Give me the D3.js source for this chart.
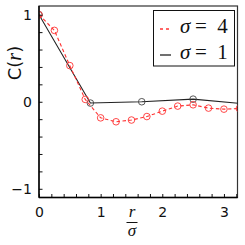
<!DOCTYPE html>
<html><head><meta charset="utf-8">
<script src="https://cdn.jsdelivr.net/npm/d3@7"></script>
<style>body{margin:0;background:#fff}svg{display:block}</style>
</head><body><svg id="c" width="245" height="245"></svg>
<script>
const redR = [0, 0.25, 0.5, 0.75, 1.0, 1.25, 1.5, 1.75, 2.0, 2.25, 2.5, 2.75, 3.0, 3.25];
const redC = [1.0, 0.82, 0.415, 0.027, -0.185, -0.23, -0.21, -0.17, -0.108, -0.05, -0.035, -0.073, -0.085, -0.078];
const blackR = [0, 0.8333, 1.6667, 2.5, 3.3333];
const blackC = [1.0, -0.015, 0.0, 0.03, -0.025];
const xMajor = [0, 1, 2, 3];
const yMajor = [-1, 0, 1];
const legendLabels = ["4", "1"];

const svg = d3.select("#c");
const L = 39, R = 237.5, T = 6, B = 197.5;
const x = d3.scaleLinear().domain([0, 3.22]).range([L, R]);
const y = d3.scaleLinear().domain([-1.1, 1.1]).range([B, T]);

svg.append("clipPath").attr("id","clip").append("rect")
  .attr("x", L).attr("y", T).attr("width", R - L).attr("height", B - T);

// frame
svg.append("rect").attr("x", L).attr("y", T).attr("width", R - L).attr("height", B - T)
  .attr("fill", "none").attr("stroke", "#333").attr("stroke-width", 1.2);

const g = svg.append("g").attr("clip-path", "url(#clip)");
const redData = redR.map((r, i) => [r, redC[i]]);
const blackData = blackR.map((r, i) => [r, blackC[i]]);
const line = d3.line().x(d => x(d[0])).y(d => y(d[1]));

g.append("path").datum(blackData).attr("d", line).attr("fill", "none")
  .attr("stroke", "#222").attr("stroke-width", 1.1);
g.selectAll(".bc").data(blackData).enter().append("circle")
  .attr("cx", d => x(d[0])).attr("cy", d => y(d[1])).attr("r", 3.3)
  .attr("fill", "none").attr("stroke", "#444").attr("stroke-width", 0.9);

g.append("path").datum(redData).attr("d", line).attr("fill", "none")
  .attr("stroke", "#f33").attr("stroke-width", 1.1).attr("stroke-dasharray", "3.5,2.5");
g.selectAll(".rc").data(redData).enter().append("circle")
  .attr("cx", d => x(d[0])).attr("cy", d => y(d[1])).attr("r", 3.3)
  .attr("fill", "none").attr("stroke", "#f33").attr("stroke-width", 0.9);

// axes (ticks inward)
const xMinor = d3.range(0, 3.21, 0.2);
const yMinor = d3.range(-1, 1.01, 0.2);
const xAx = svg.append("g").attr("transform", `translate(0,${B})`)
  .call(d3.axisBottom(x).tickValues(xMinor).tickSize(-3.5).tickFormat(""));
xAx.select(".domain").remove();
xAx.selectAll("line").attr("stroke", "#111").attr("stroke-width", 1);
const xLab = svg.append("g").attr("transform", `translate(0,${B})`)
  .call(d3.axisBottom(x).tickValues(xMajor).tickSize(0).tickPadding(10).tickFormat(d3.format("d")));
xLab.select(".domain").remove();
xLab.selectAll("text").attr("font-family", "DejaVu Sans").attr("font-size", 14).attr("fill", "#111");

const yAx = svg.append("g").attr("transform", `translate(${L},0)`)
  .call(d3.axisLeft(y).tickValues(yMinor).tickSize(-3.5).tickFormat(""));
yAx.select(".domain").remove();
yAx.selectAll("line").attr("stroke", "#111").attr("stroke-width", 1);
const yLab = svg.append("g").attr("transform", `translate(${L},0)`)
  .call(d3.axisLeft(y).tickValues(yMajor).tickSize(0).tickPadding(7).tickFormat(d => d < 0 ? "\u22121" : d3.format("d")(d)));
yLab.select(".domain").remove();
yLab.selectAll("text").attr("font-family", "DejaVu Sans").attr("font-size", 14).attr("fill", "#111");

// left and bottom spine darker
svg.append("line").attr("x1", L).attr("x2", L).attr("y1", T).attr("y2", B).attr("stroke", "#000").attr("stroke-width", 1.4);
svg.append("line").attr("x1", L).attr("x2", R).attr("y1", B).attr("y2", B).attr("stroke", "#000").attr("stroke-width", 1.4);

// y label
const yl = svg.append("text").attr("transform", "translate(21,63) rotate(-90)")
  .attr("text-anchor", "middle").attr("font-family", "DejaVu Sans").attr("font-size", 18).attr("fill", "#111");
yl.append("tspan").text("C(");
yl.append("tspan").attr("font-family", "Liberation Serif").attr("font-style", "italic").attr("font-size", 20).text("r");
yl.append("tspan").text(")");

// x label fraction
svg.append("text").attr("x", 132).attr("y", 217).attr("text-anchor", "middle")
  .attr("font-family", "Liberation Serif").attr("font-style", "italic").attr("font-size", 17).attr("fill", "#111").text("r");
svg.append("line").attr("x1", 126.5).attr("x2", 137.5).attr("y1", 222.5).attr("y2", 222.5).attr("stroke", "#111").attr("stroke-width", 1);
svg.append("text").attr("x", 132).attr("y", 235.5).attr("text-anchor", "middle")
  .attr("font-family", "Liberation Serif").attr("font-style", "italic").attr("font-size", 17).attr("fill", "#111").text("σ");

// legend
const lg = svg.append("g");
lg.append("rect").attr("x", 153.5).attr("y", 10.5).attr("width", 81).attr("height", 55.5)
  .attr("fill", "#fff").attr("stroke", "#111").attr("stroke-width", 1);
const rows = [{c: "#f33", dash: "3,3", yy: 29}, {c: "#222", dash: null, yy: 55}];
rows.forEach((r, i) => {
  const ln = lg.append("line").attr("x1", 160).attr("x2", 171).attr("y1", r.yy).attr("y2", r.yy)
    .attr("stroke", r.c).attr("stroke-width", 1.3);
  if (r.dash) ln.attr("stroke-dasharray", r.dash);
  const base = r.yy + 3.5;
  lg.append("text").attr("x", 180).attr("y", base).attr("font-family", "Liberation Serif")
    .attr("font-style", "italic").attr("font-size", 21).attr("fill", "#111").text("σ");
  lg.append("text").attr("x", 201).attr("y", base).attr("text-anchor", "middle").attr("font-family", "Liberation Serif")
    .attr("font-size", 21).attr("fill", "#111").text("=");
  lg.append("text").attr("x", 222.5).attr("y", base).attr("text-anchor", "middle").attr("font-family", "Liberation Serif")
    .attr("font-size", 21).attr("fill", "#111").text(legendLabels[i]);
});
</script></body></html>
